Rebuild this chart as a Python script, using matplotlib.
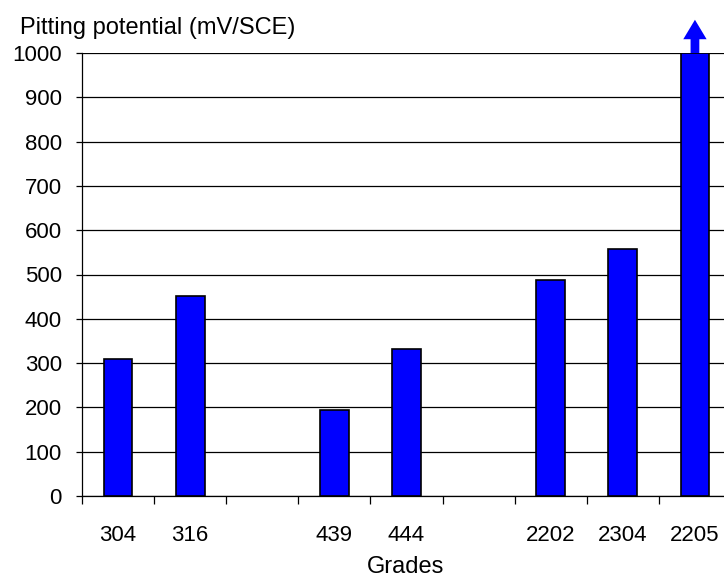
import numpy as np
import matplotlib
matplotlib.use("Agg")
import matplotlib.pyplot as plt

plt.rcParams['font.family'] = ['Liberation Sans', 'DejaVu Sans']

categories = ['304', '316', '', '439', '444', '', '2202', '2304', '2205']
values = [309, 452, np.nan, 194, 332, np.nan, 488, 557, 1000]
y_ticks = [0, 100, 200, 300, 400, 500, 600, 700, 800, 900, 1000]
y_title = 'Pitting potential (mV/SCE)'
x_title = 'Grades'

fig = plt.figure(figsize=(7.24, 5.8), dpi=100)
ax = fig.add_axes([82/724, 1-496/580, (731-82)/724, (496-53)/580])

x = np.arange(len(categories))
mask = ~np.isnan(values)
ax.bar(x[mask], np.array(values)[mask], width=0.4, color='#0000FF',
       edgecolor='black', linewidth=1.2, zorder=3)

ax.set_xlim(-0.5, len(categories) - 0.5)
ax.set_ylim(0, 1000)
ax.set_yticks(y_ticks)
ax.yaxis.grid(True, color='black', linewidth=0.9, zorder=0)
ax.set_axisbelow(True)

# major ticks at slot boundaries, labels at slot centres
ax.set_xticks(np.arange(len(categories) + 1) - 0.5)
ax.set_xticklabels([])
ax.set_xticks(x, minor=True)
ax.set_xticklabels(categories, minor=True, fontsize=16)
ax.tick_params(axis='x', which='major', direction='out', length=5.5, width=0.9)
ax.tick_params(axis='x', which='minor', length=0, pad=21)
ax.tick_params(axis='y', direction='out', length=4.5, width=0.9, pad=10, labelsize=16)

for s in ['top', 'right']:
    ax.spines[s].set_visible(False)
for s in ['left', 'bottom']:
    ax.spines[s].set_linewidth(0.9)

# arrow above the off-scale bar
top_idx = len(categories) - 1
ax.annotate('', xy=(top_idx, 1075), xytext=(top_idx, 1000),
            xycoords='data', annotation_clip=False,
            arrowprops=dict(arrowstyle='simple,head_length=1.0,head_width=1.2,tail_width=0.45',
                            color='#0000FF', lw=0, shrinkA=0, shrinkB=0,
                            mutation_scale=14))

fig.text(20/724, 1-34/580, y_title, fontsize=17, ha='left', va='baseline')
fig.text(406/724, 1-567/580, x_title, fontsize=17, ha='center', va='center')

fig.savefig('out.png', dpi=100)
